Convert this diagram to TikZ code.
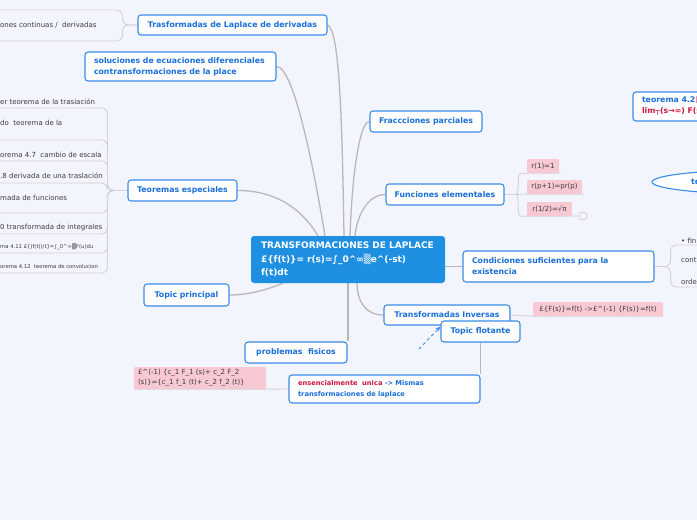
\documentclass[tikz,border=0pt]{standalone}
\usepackage{fontspec}
\setmainfont{DejaVu Sans}
\usetikzlibrary{shapes.geometric,arrows.meta,calc}
\pgfdeclarelayer{bgl}\pgfdeclarelayer{edges}\pgfsetlayers{bgl,edges,main}
\definecolor{bgc}{HTML}{F2F5FD}
\definecolor{tblue}{HTML}{1A6ED8}
\definecolor{tborder}{HTML}{3A8CE8}
\definecolor{cblue}{HTML}{1E8FE1}
\definecolor{lgray}{HTML}{B8B8B8}
\definecolor{sgray}{HTML}{D2D2D2}
\definecolor{pinkf}{HTML}{F8C8D3}
\definecolor{redt}{HTML}{D0163F}
\definecolor{gtext}{HTML}{3C3C3C}
\definecolor{pinkt}{HTML}{F08CA8}
\newcommand\fT{\fontsize{7.8}{11}\selectfont\bfseries}
\newcommand\fC{\fontsize{9}{13.5}\selectfont\bfseries}
\newcommand\fS{\fontsize{7}{10}\selectfont}
\newcommand\fSS{\fontsize{5.3}{7}\selectfont}
\newcommand\fE{\fontsize{6.7}{11}\selectfont\bfseries}
\tikzset{
 topic/.style={draw=tborder, line width=1.1pt, fill=white, rounded corners=3pt, text=tblue, font=\fT, inner sep=0pt, align=center},
 topicl/.style={topic, align=left, inner xsep=9pt},
 pinkbox/.style={fill=pinkf, text=gtext, font=\fS, inner sep=0pt, rounded corners=1pt},
 stext/.style={text=gtext, font=\fS, inner sep=0pt, anchor=west},
 mainline/.style={draw=lgray, line width=1.3pt},
 subline/.style={draw=sgray, line width=0.9pt, rounded corners=6pt},
}
\begin{document}
\begin{tikzpicture}[x=1pt,y=1pt]
\useasboundingbox (0,0) rectangle (697,-520);
\clip (0,0) rectangle (697,-520);
\begin{pgfonlayer}{bgl}
\fill[bgc] (0,0) rectangle (697,-520);
\end{pgfonlayer}

% central
\node[fill=cblue, rounded corners=3pt, text=white, font=\fC, align=left, text width=174pt, inner xsep=10pt, inner ysep=0pt, minimum height=47pt] (central) at (348,-259.5)
 {TRANSFORMACIONES DE LAPLACE\\£\{f(t)\}= r(s)=∫\_0\textasciicircum∞▒e\textasciicircum(-st)\\f(t)dt};

% topics
\node[topic, minimum width=189pt, minimum height=20pt] (der) at (232.5,-25) {Trasformadas de Laplace de derivadas};
\node[topicl, text width=173pt, minimum height=29pt] (sol) at (180.5,-66.5) {soluciones de ecuaciones diferenciales\\contransformaciones de la place};
\node[topic, minimum width=112pt, minimum height=21pt] (fra) at (426,-121.5) {Fraccciones parciales};
\node[topic, minimum width=118pt, minimum height=21pt] (fun) at (445,-194.5) {Funciones elementales};
\node[topic, minimum width=109pt, minimum height=21pt] (teo) at (182.5,-190.5) {Teoremas especiales};
\node[topic, minimum width=85pt, minimum height=22pt] (tp) at (186.5,-295) {Topic principal};
\node[topicl, text width=173pt, minimum height=31pt] (cond) at (558.5,-266.5) {Condiciones suficientes para la\\existencia};
\node[topic, minimum width=126pt, minimum height=20pt] (inv) at (447,-315) {Transformadas Inversas};
\node[topic, minimum width=79pt, minimum height=21pt] (flo) at (480.5,-331.5) {Topic flotante};
\node[topic, minimum width=102pt, minimum height=21pt] (prob) at (296,-352.5) {problemas\ \ fisicos};
\node[topicl, font=\fE, text width=173pt, minimum height=28pt] (ens) at (384.5,-389) {\textcolor{redt}{ensencialmente\ \ unica} -> Mismas\\transformaciones de laplace};
\node[topicl, text width=132pt, minimum width=150pt, minimum height=29pt] (t42) at (708,-106.5) {teorema 4.2\textcolor{pinkt}{[}\\\textcolor{redt}{lim┬(s→∞) F(s}};
\node[ellipse, draw=tborder, line width=1.1pt, fill=white, minimum width=216pt, minimum height=24pt, inner sep=0pt] (ell) at (760,-182) {};
\node[text=tblue, font=\fT, inner sep=0pt, anchor=west] (ellt) at (691,-182) {te};

% pink labels
\node[pinkbox, minimum width=32pt, minimum height=14pt] (p1) at (543,-166) {r(1)=1};
\node[pinkbox, minimum width=55pt, minimum height=14pt] (p2) at (554.5,-187) {r(p+1)=pr(p)};
\node[pinkbox, minimum width=45pt, minimum height=14pt] (p3) at (549.5,-209) {r(1/2)=√π};
\node[draw=sgray, line width=0.9pt, circle, minimum size=8pt, inner sep=0pt, fill=bgc] (col) at (583,-216) {};
\node[pinkbox, minimum width=130pt, minimum height=14pt] (pinv) at (598,-309) {£\{F(s)\}=f(t) ->£\textasciicircum(-1) \{F(s)\}=f(t)};
\node[pinkbox, align=left, text width=124pt, inner xsep=4pt, minimum height=22pt, font=\fontsize{7}{10}\selectfont] (plin) at (200,-378) {£\textasciicircum(-1) \{c\_1 F\_1 (s)+ c\_2 F\_2\\(s)\}=\{c\_1 f\_1 (t)+ c\_2 f\_2 (t)\}};

% gray subtopic texts
\node[stext] (s0) at (0,-25) {ones continuas /\ \ derivadas};
\node[stext] (s1) at (0,-102) {er teorema de la trasiación};
\node[stext] (s2) at (0,-123) {do\ \ teorema de la};
\node[stext] (s3) at (0,-155) {orema 4.7\ \ cambio de escala};
\node[stext] (s4) at (0,-176) {.8 derivada de una traslación};
\node[stext] (s5) at (0,-198) {mada de funciones};
\node[stext] (s6) at (0,-228) {0 transformada de integrales};
\node[stext, font=\fSS] (s7) at (0,-247) {ma 4.11 £\{(f(t))/t\}=∫\_0\textasciicircum∞▒F(u)du};
\node[stext, font=\fSS] (s8) at (0,-267) {orema 4.12\ \ teorema de convolucion};
\node[stext] (r1) at (681,-241) {• fin};
\node[stext] (r2) at (681,-260) {conti};
\node[stext] (r3) at (681,-282) {orde};

% free ends
\coordinate (d1) at (0,-10);
\coordinate (d2) at (0,-41);
\coordinate (e1) at (0,-108);
\coordinate (e2) at (0,-140);
\coordinate (e3) at (0,-161);
\coordinate (e4) at (0,-183);
\coordinate (e5) at (0,-213);
\coordinate (e6) at (0,-234);
\coordinate (e7) at (0,-253);
\coordinate (e8) at (0,-273);
\coordinate (c1) at (697,-245);
\coordinate (c2) at (697,-287);
\coordinate (dst) at (419,-349);

\begin{pgfonlayer}{edges}
\draw[mainline] (der.east) .. controls +(12,-5) and +(-2,120) .. ([xshift=-4pt]central.north);
\draw[mainline] (sol.east) .. controls +(18,0) and +(-10,60) .. ([xshift=-23pt]central.north);
\draw[mainline] (fra.west) .. controls +(-10,0) and +(2,60) .. ([xshift=2pt]central.north);
\draw[mainline] (fun.west) .. controls +(-18,0) and +(2,20) .. ([xshift=7pt]central.north);
\draw[mainline] (teo.east) .. controls +(45,0) and +(-12,20) .. ([xshift=-30pt]central.north);
\draw[mainline] (tp.east) .. controls +(20,0) and +(-15,-6) .. ([xshift=-65pt]central.south);
\draw[mainline] (central.south) -- (central.south |- prob.north);
\draw[mainline] (inv.west) .. controls +(-20,0) and +(0,-15) .. ([xshift=9pt]central.south);
\draw[mainline] (cond.west) -- (central.east |- cond.west);
\draw[mainline] (flo.south) -- (flo.south |- ens.north);
% subtopic lines
\draw[subline] (der.west) -- ++(-15,0) |- (d1);
\draw[subline] (der.west) -- ++(-15,0) |- (d2);
\foreach \e in {e1,e2,e3,e4,e5,e6,e7,e8}
  \draw[subline] (teo.west) -- ++(-20,0) |- (\e);
\draw[subline] (cond.east) -- ++(16,0) |- (c1);
\draw[subline] (cond.east) -- ++(16,0) |- (c2);
\draw[subline] (fun.east) -- ++(5,0) to[out=0,in=180] (p1.south west) -- ([xshift=2pt]p1.south east);
\draw[subline] (fun.east) -- ++(5,0) to[out=0,in=180] (p2.south west) -- ([xshift=2pt]p2.south east);
\draw[subline] (fun.east) -- ++(5,0) to[out=0,in=180] (p3.south west) -- (col.west);
\draw[subline] (inv.east) -- (pinv.south west) -- (pinv.south east);
\draw[subline] (ens.west) -- (plin.south east) -- (plin.south west);
\end{pgfonlayer}
\draw[tborder, line width=0.9pt, dashed, -{Stealth[length=5pt,width=4pt]}] (dst) -- ([yshift=5pt]flo.west);
\end{tikzpicture}
\end{document}
